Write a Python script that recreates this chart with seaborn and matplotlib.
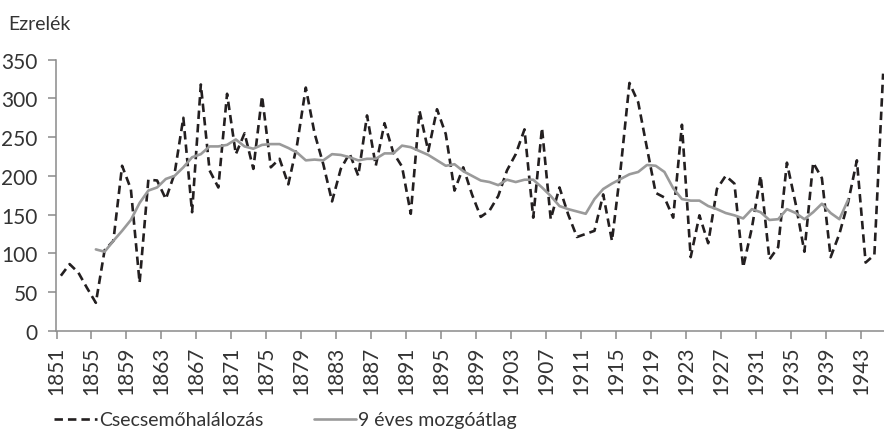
import numpy as np
import pandas as pd
import matplotlib
matplotlib.use("Agg")
import matplotlib.pyplot as plt
from matplotlib.lines import Line2D
import seaborn as sns

# ==========================
# DATA
# ==========================

years = list(range(1851, 1946))

infant_mortality = [
    71, 86, 75, 55, 36, 104, 116, 213, 183, 62,
    195, 194, 170, 203, 275, 153, 318, 207, 185, 306,
    228, 255, 209, 303, 211, 222, 189, 240, 314, 255,
    215, 167, 209, 229, 200, 278, 213, 268, 230, 212,
    151, 284, 232, 286, 254, 181, 211, 176, 147, 155,
    174, 207, 228, 260, 146, 262, 144, 185, 150, 121,
    125, 129, 176, 116, 210, 320, 295, 236, 178, 172,
    146, 266, 95, 149, 113, 183, 200, 190, 82, 133,
    200, 92, 108, 217, 164, 102, 217, 197, 95, 125,
    166, 220, 88, 98, 332,
]

ma_years = list(range(1855, 1942))

moving_avg = [
    105, 102, 116, 129, 143, 165, 181, 185, 196, 200,
    211, 224, 228, 238, 238, 240, 247, 238, 235, 240,
    241, 241, 236, 230, 220, 221, 220, 228, 227, 224,
    220, 222, 222, 229, 229, 239, 237, 232, 227, 220,
    213, 215, 206, 200, 194, 192, 188, 195, 192, 195,
    195, 185, 174, 161, 157, 154, 151, 170, 183, 190,
    196, 202, 205, 214, 213, 205, 184, 170, 168, 168,
    161, 157, 152, 149, 145, 157, 153, 143, 144, 157,
    152, 144, 153, 164, 152, 144, 169,
]

tick_years = list(range(1851, 1944, 4))
y_ticks = [0, 50, 100, 150, 200, 250, 300, 350]

label_main = "Csecsemőhalálozás"
label_ma = "9 éves mozgóátlag"
y_title = "Ezrelék"

assert len(years) == len(infant_mortality)
assert len(ma_years) == len(moving_avg)

df_main = pd.DataFrame({"year": years, "value": infant_mortality})
df_ma = pd.DataFrame({"year": ma_years, "value": moving_avg})

# ==========================
# STYLE
# ==========================

sns.set_style("ticks")
plt.rcParams["font.family"] = ["Lato", "DejaVu Sans"]

text_color = "#333333"
axis_color = "#8a8a8a"
dark = "#231f20"
grey = "#9a9a9a"
fs_ticks = 15
fs_text = 14

# ==========================
# FIGURE
# ==========================

fig = plt.figure(figsize=(8.84, 4.31), dpi=100)
ax = fig.add_axes([56.5 / 884, 1 - 331.7 / 431, (884 - 56.5) / 884, (331.7 - 60.7) / 431])

dash_style = (0, (3.2, 1.9))

sns.lineplot(data=df_main, x="year", y="value", ax=ax, color=dark,
             linewidth=1.9, linestyle=dash_style)
sns.lineplot(data=df_ma, x="year", y="value", ax=ax, color=grey,
             linewidth=1.9)

ax.set_xlim(1850.5, 1945.1)
ax.set_ylim(0, 350)

ax.set_xticks([y - 0.5 for y in tick_years])
ax.set_xticklabels([str(y) for y in tick_years], rotation=90)
ax.set_yticks(y_ticks)

ax.set_xlabel("")
ax.set_ylabel("")

for side in ["top", "right"]:
    ax.spines[side].set_visible(False)
for side in ["left", "bottom"]:
    ax.spines[side].set_color(axis_color)
    ax.spines[side].set_linewidth(1.1)

ax.tick_params(axis="both", color=axis_color, width=1.1, length=5.5,
               labelcolor=text_color, labelsize=fs_ticks)
ax.tick_params(axis="y", pad=8)
ax.tick_params(axis="x", pad=5)

fig.text(8 / 884, 1 - 24 / 431, y_title, ha="left", va="center",
         fontsize=fs_text, color=text_color)

# ==========================
# LEGEND
# ==========================

handles = [
    Line2D([0], [0], color=dark, linewidth=1.9, linestyle=dash_style),
    Line2D([0], [0], color=grey, linewidth=1.9),
]
fig.legend(handles, [label_main, label_ma], loc="center left",
           bbox_to_anchor=(54 / 884, 1 - 421 / 431), ncol=2, frameon=False,
           fontsize=fs_text, handlelength=2.2, handletextpad=0.1,
           columnspacing=2.6, borderpad=0, borderaxespad=0,
           labelcolor=text_color)

fig.savefig("out.png", dpi=100)
plt.close(fig)
